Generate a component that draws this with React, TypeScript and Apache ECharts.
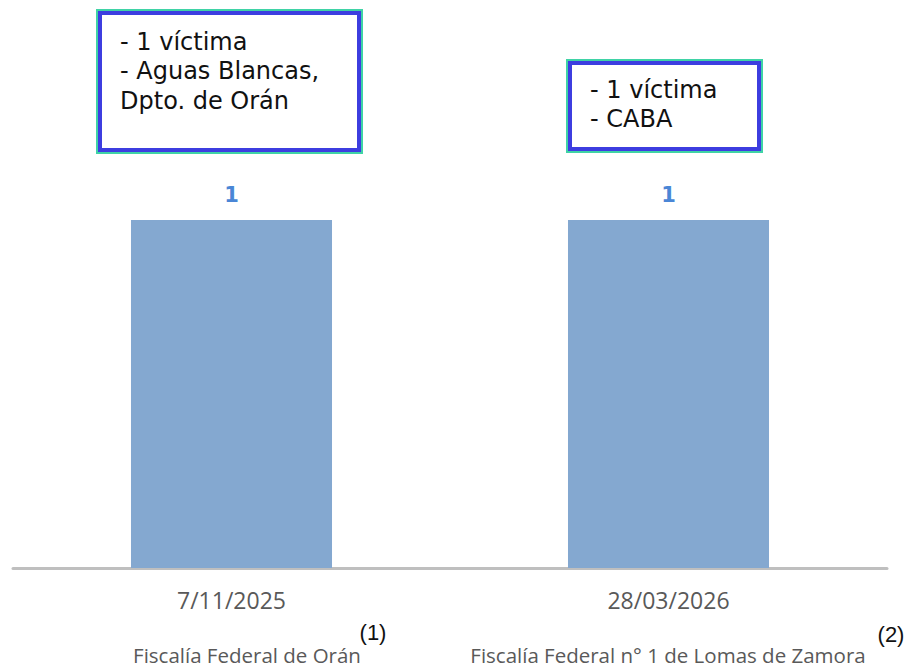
import React, { useEffect, useRef } from "react";
import * as echarts from "echarts";

const categories = ["7/11/2025", "28/03/2026"];
const values = [1, 1];
const fiscalias = ["Fiscalía Federal de Orán", "Fiscalía Federal n° 1 de Lomas de Zamora"];
const notes = ["(1)", "(2)"];
const boxTexts = ["- 1 víctima\n- Aguas Blancas,\nDpto. de Orán", "- 1 víctima\n- CABA"];

export default function App() {
  const ref = useRef<HTMLDivElement>(null);
  useEffect(() => {
    const chart = echarts.init(ref.current!, null, { renderer: "svg" });
    const boxFont = { fontFamily: "'DejaVu Sans', sans-serif", fontSize: 24, fill: "#111", lineHeight: 29.5 };
    const makeBox = (x: number, y: number, w: number, h: number, text: string, tx: number, ty: number) => [
      { type: "rect", shape: { x, y, width: w, height: h }, style: { fill: "#fff", stroke: "#3fd3a6", lineWidth: 2 } },
      { type: "rect", shape: { x: x + 3, y: y + 3, width: w - 6, height: h - 6 }, style: { fill: "#fff", stroke: "#3d3de0", lineWidth: 4 } },
      { type: "text", x: tx, y: ty, style: { text, ...boxFont, textVerticalAlign: "top" } },
    ];
    const fFont = { fill: "#595959", fontSize: 20.5, fontFamily: "'Open Sans', sans-serif", textAlign: "center", textVerticalAlign: "middle" };
    chart.setOption({
      animation: false,
      backgroundColor: "#fff",
      grid: { left: 13, right: 23, top: 220, bottom: 102, containLabel: false },
      xAxis: {
        type: "category",
        data: categories,
        axisLine: { lineStyle: { color: "#bfbfbf", width: 3 } },
        axisTick: { show: false },
        axisLabel: { color: "#595959", fontSize: 23, fontFamily: "'Open Sans', sans-serif", margin: 20 },
      },
      yAxis: { type: "value", min: 0, max: 1, show: false, splitLine: { show: false } },
      series: [
        {
          type: "bar",
          data: values,
          barWidth: "46%",
          itemStyle: { color: "#84a8d0" },
          label: {
            show: true,
            position: "top",
            distance: 15,
            color: "#4a86d6",
            fontSize: 21,
            fontWeight: "bold",
            fontFamily: "'DejaVu Sans', sans-serif",
          },
        },
      ],
      graphic: [
        ...makeBox(97, 10, 265, 143, boxTexts[0], 120, 27),
        ...makeBox(567, 60, 195, 92, boxTexts[1], 590, 75),
        { type: "text", x: 247, y: 655, style: { text: fiscalias[0], ...fFont } },
        { type: "text", x: 668, y: 655, style: { text: fiscalias[1], ...fFont } },
        { type: "text", x: 373, y: 632, style: { text: notes[0], fill: "#111", fontSize: 22, fontFamily: "'Liberation Sans', Arial, sans-serif", textAlign: "center", textVerticalAlign: "middle" } },
        { type: "text", x: 891, y: 634, style: { text: notes[1], fill: "#111", fontSize: 22, fontFamily: "'Liberation Sans', Arial, sans-serif", textAlign: "center", textVerticalAlign: "middle" } },
      ],
    });
    return () => chart.dispose();
  }, []);
  return <div ref={ref} style={{ width: 910, height: 670, position: "absolute", left: 0, top: 0 }} />;
}
